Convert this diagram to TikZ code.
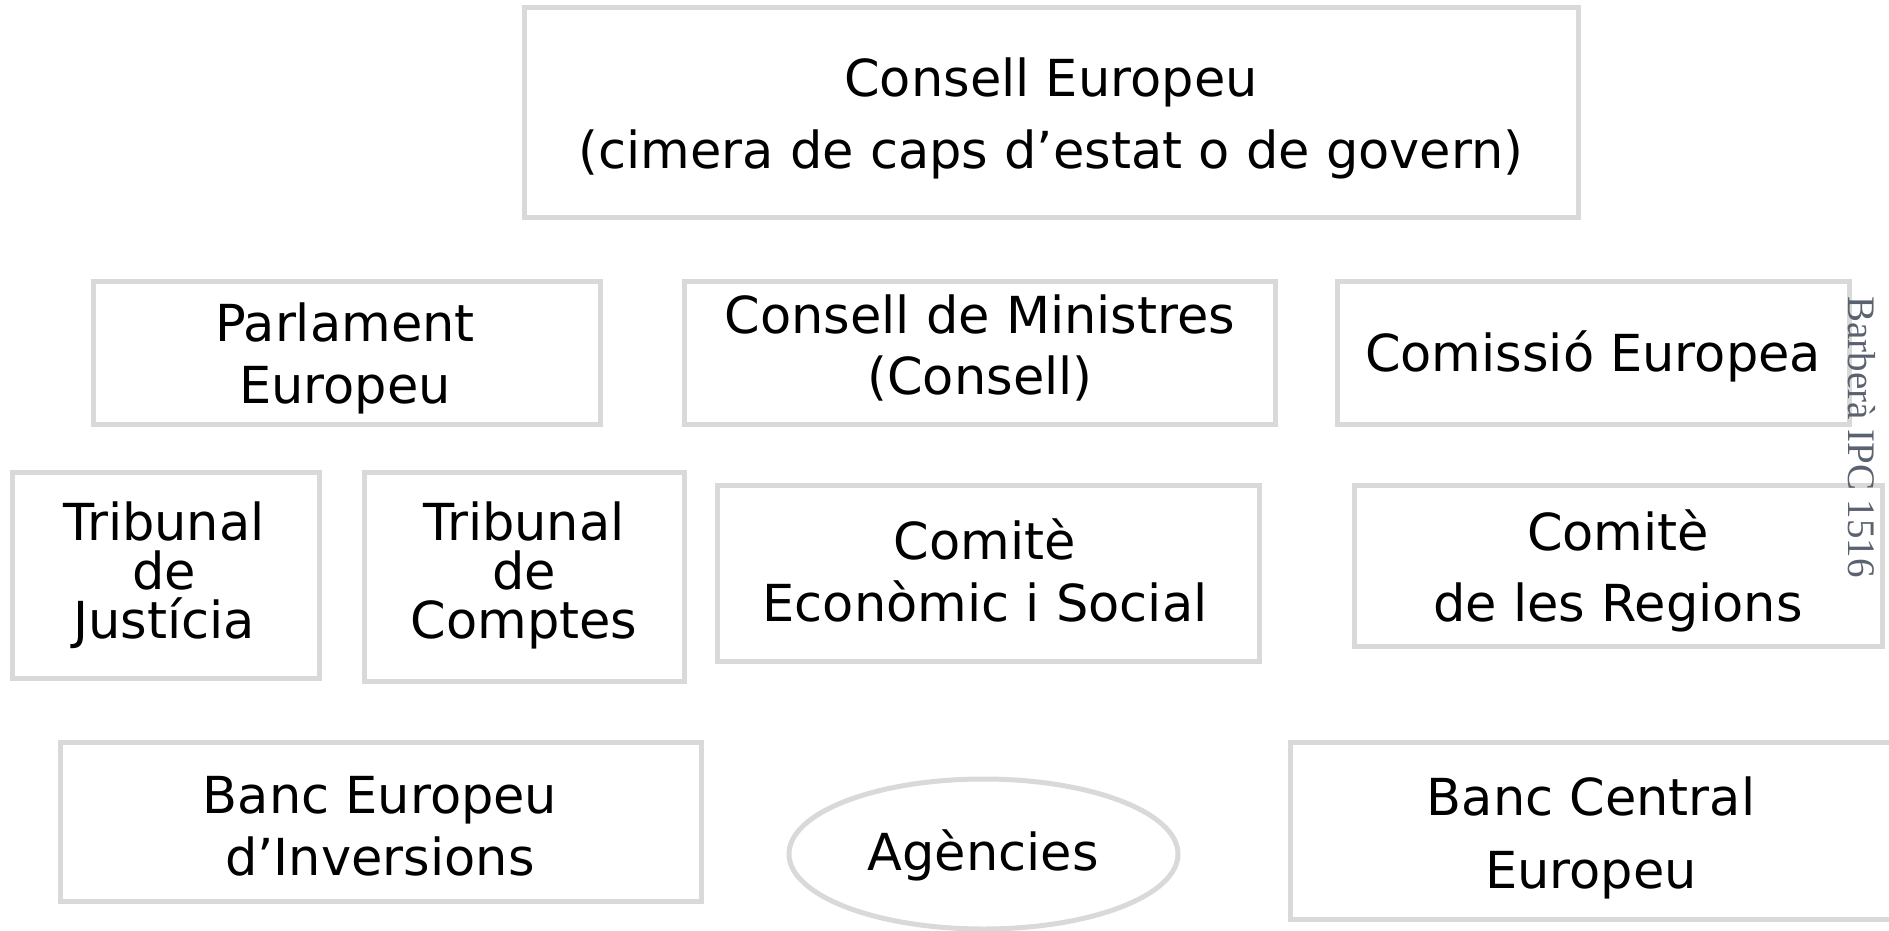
\documentclass[tikz,border=0pt]{standalone}
\usepackage{fontspec}
\setmainfont{DejaVu Sans}
\newfontfamily\wmfont{Liberation Serif}
\usetikzlibrary{shapes.geometric}
\definecolor{boxgray}{HTML}{D9D9D9}
\definecolor{wmgray}{HTML}{5A6270}
\tikzset{
  box/.style={draw=boxgray, line width=5pt, rectangle, inner sep=0pt},
  oval/.style={draw=boxgray, line width=5pt, ellipse, inner sep=0pt},
  txt/.style={align=center, inner sep=0pt, text=black},
  lbl/.style={txt, font=\fontsize{51}{#1}\selectfont},
  lbl/.default=61
}
\begin{document}
\begin{tikzpicture}[x=1pt,y=-1pt]
\useasboundingbox (0,0) rectangle (1889,931);
\begin{scope}
\clip (0,0) rectangle (1889,931);
% boxes
\node[box, minimum width=1054pt, minimum height=209pt] (ce) at (1051,112.5) {};
\node[box, minimum width=507pt, minimum height=143pt] (pe) at (346.5,352.5) {};
\node[box, minimum width=591pt, minimum height=143pt] (cm) at (979.5,352.5) {};
\node[box, minimum width=512pt, minimum height=143pt] (co) at (1593,352.5) {};
\node[box, minimum width=307pt, minimum height=206pt] (tj) at (165.5,575) {};
\node[box, minimum width=320pt, minimum height=209pt] (tc) at (524,576.5) {};
\node[box, minimum width=542pt, minimum height=176pt] (ces) at (988,573) {};
\node[box, minimum width=528pt, minimum height=161pt] (cr) at (1618,565.5) {};
\node[box, minimum width=641pt, minimum height=159pt] (bei) at (380.5,821.5) {};
\node[oval, minimum width=389pt, minimum height=150pt] (ag) at (983.5,854) {};
\node[box, minimum width=615pt, minimum height=177pt] (bce) at (1597.5,830.5) {};
\end{scope}
% texts
\node[lbl=72] (ce-t) at (1051,118) {Consell Europeu\\(cimera de caps d’estat o de govern)};
\node[lbl=62] (pe-t) at (345,358) {Parlament\\Europeu};
\node[lbl] (cm-t) at (980,348) {Consell de Ministres\\(Consell)};
\node[lbl] (co-t) at (1593,356) {Comissió Europea};
\node[lbl=49] (tj-t) at (164,575) {Tribunal\\de\\Justícia};
\node[lbl=49] (tc-t) at (524,575) {Tribunal\\de\\Comptes};
\node[lbl=62] (ces-t) at (985,570) {Comitè\\Econòmic i Social};
\node[lbl=71] (cr-t) at (1618,571) {Comitè\\de les Regions};
\node[lbl=62] (bei-t) at (380,826) {Banc Europeu\\d’Inversions};
\node[lbl] (ag-t) at (983,855) {Agències};
\node[lbl=73] (bce-t) at (1591,838) {Banc Central\\Europeu};
% watermark
\node[inner sep=0pt, text=wmgray, rotate=-90, font=\wmfont\fontsize{39}{47}\selectfont] (wm) at (1862,437) {Barberà IPC 1516};
\end{tikzpicture}
\end{document}
